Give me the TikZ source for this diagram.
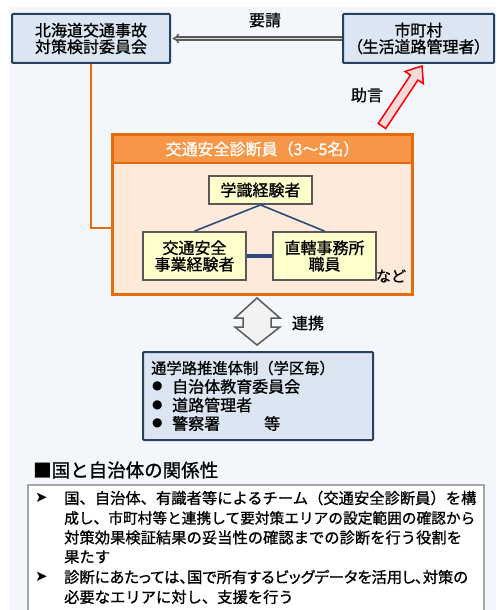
\documentclass[tikz,border=0pt]{standalone}
\usepackage{fontspec}
\setmainfont{Noto Sans CJK JP}[FakeBold=1]
\newfontfamily\jpp{Noto Sans CJK JP}[FakeBold=1, RawFeature=+palt]
\newfontfamily\djv{DejaVu Sans}
\usetikzlibrary{arrows.meta}
\definecolor{panel}{HTML}{F3F7FB}
\definecolor{navy}{HTML}{254061}
\definecolor{boxblue}{HTML}{DCE6F2}
\definecolor{orangec}{HTML}{E46C0A}
\definecolor{orangehead}{HTML}{F79646}
\definecolor{peach}{HTML}{FDEADA}
\definecolor{yel}{HTML}{FFFFCC}
\definecolor{dgray}{HTML}{595959}
\definecolor{lineblue}{HTML}{2A4B7C}
\definecolor{pinkfill}{HTML}{F2DCDB}
\definecolor{lgray}{HTML}{F2F2F2}
\definecolor{bordergray}{HTML}{A6A6A6}
\tikzset{
  bluebox/.style={draw=navy, line width=2pt, fill=boxblue, rounded corners=1pt, align=center, inner sep=0pt},
  yelbox/.style={draw=dgray, line width=1.8pt, fill=yel, align=center, inner sep=0pt, minimum width=103pt},
  f16/.style={font=\fontsize{16}{18}\selectfont},
  f15/.style={font=\fontsize{15.3}{18}\selectfont},
  f14/.style={font=\fontsize{15}{17}\selectfont},
  txt/.style={inner sep=0pt, anchor=west},
}
\begin{document}
\begin{tikzpicture}[x=1pt,y=-1pt]
\useasboundingbox (0,0) rectangle (496,610);
\fill[white] (0,0) rectangle (496,610);
\fill[panel] (9,7) rectangle (496,610);

% top boxes
\node[bluebox, f16, minimum width=158pt, minimum height=49pt] (b1) at (91,38.5)
  {北海道交通事故\\[-1.5pt]対策検討委員会};
\node[bluebox, f16, minimum width=151pt, minimum height=49pt] (b2) at (418.5,38.5)
  {市町村\\[-1.5pt]{\jpp （生活道路管理者）}};
\draw[draw=dgray, line width=1.3pt, double=lgray!80!gray, double distance=1.8pt, -{Implies[length=5pt]}] (b2.west) -- ([xshift=1.5pt]b1.east);
\node[f16, inner sep=0pt] (yosei) at (265,20) {要請};

% orange box
\node[draw=orangec, line width=2pt, fill=peach, minimum width=299pt, minimum height=159pt, inner sep=0pt] (obox) at (262.5,214.5) {};
\node[draw=orangec, line width=2pt, fill=orangehead, minimum width=299pt, minimum height=28pt, inner sep=0pt, text=white, f16] (ohead) at (262.5,149) {交通安全診断員（3～5名）};
\draw[orangec, line width=2pt] (obox.south west) rectangle (obox.north east);
\draw[orangec, line width=2pt] (b1.south) |- ([yshift=-13.5pt]obox.west);

\node[yelbox, f16, minimum height=28pt] (gak) at (260.5,190) {学識経験者};
\node[yelbox, f16, minimum height=48pt] (jig) at (194.5,256) {交通安全\\[-1.5pt]事業経験者};
\node[yelbox, f16, minimum height=48pt] (cho) at (324.5,256) {直轄事務所\\[-1.5pt]職員};
\draw[lineblue, line width=1.6pt] (gak.south) -- (jig.north);
\draw[lineblue, line width=1.6pt] (gak.south) -- (cho.north);
\draw[lineblue, line width=3.2pt] (jig.east) -- (cho.west);
\node[f14, inner sep=0pt] (nado) at (391,276) {など};

% red arrow
\draw[red, line width=1.5pt, fill=pinkfill, line join=miter]
  (385.7,128.5) -- (417.9,80.1) -- (423.4,83.7) -- (422,66) -- (405.0,71.5) -- (410.5,75.1) -- (378.3,123.5) -- cycle;
\node[f16, inner sep=0pt] (jogen) at (367,95) {助言};

% double arrow
\draw[dgray, line width=1.5pt, fill=lgray, line join=miter]
  (257,298) -- (280,318) -- (271,318) -- (271,327) -- (280,327) -- (257,345) -- (235,327) -- (243,327) -- (243,318) -- (235,318) -- cycle;
\node[f16, inner sep=0pt] (renkei) at (308,323) {連携};

% bottom blue box
\node[draw=navy, line width=2pt, fill=boxblue, rounded corners=1pt, minimum width=230pt, minimum height=88pt, inner sep=0pt] (tsu) at (258,396) {};
\node[txt, f15] (t0) at (151,368) {通学路推進体制（学区毎）};
\node[txt, font=\djv\fontsize{12}{14}\selectfont] (bu1) at (152,386.5) {●};
\node[txt, f16] (t1) at (172,386.5) {自治体教育委員会};
\node[txt, font=\djv\fontsize{12}{14}\selectfont] (bu2) at (152,405) {●};
\node[txt, f16] (t2) at (172,405) {道路管理者};
\node[txt, font=\djv\fontsize{12}{14}\selectfont] (bu3) at (152,423.5) {●};
\node[txt, f16] (t3) at (172,423.5) {警察署};
\node[txt, f16] (t3b) at (264,423.5) {等};

% section header
\node[txt, font=\fontsize{18.5}{21}\selectfont] (sec) at (33,470) {■国と自治体の関係性};

% lower text box
\draw[bordergray, line width=1.3pt, fill=white] (28,485) rectangle (484,615);
\node[txt, font=\djv\fontsize{15}{17}\selectfont] (ar1) at (35,498) {➤};
\node[txt, f15] (l1) at (64,498) {国、自治体、有識者等によるチーム（交通安全診断員）を構};
\node[txt, font=\fontsize{14.7}{18}\selectfont] (l2) at (64,518) {成し、市町村等と連携して要対策エリアの設定範囲の確認から};
\node[txt, f15] (l3) at (64,537.5) {対策効果検証結果の妥当性の確認までの診断を行う役割を};
\node[txt, f15] (l4) at (64,557) {果たす};
\node[txt, font=\djv\fontsize{15}{17}\selectfont] (ar2) at (35,577) {➤};
\node[txt, font=\jpp\fontsize{15.3}{18}\selectfont] (l5) at (64,577) {診断にあたっては、国で所有するビッグデータを活用し、対策の};
\node[txt, f15] (l6) at (64,597) {必要なエリアに対し、支援を行う};
\end{tikzpicture}
\end{document}
